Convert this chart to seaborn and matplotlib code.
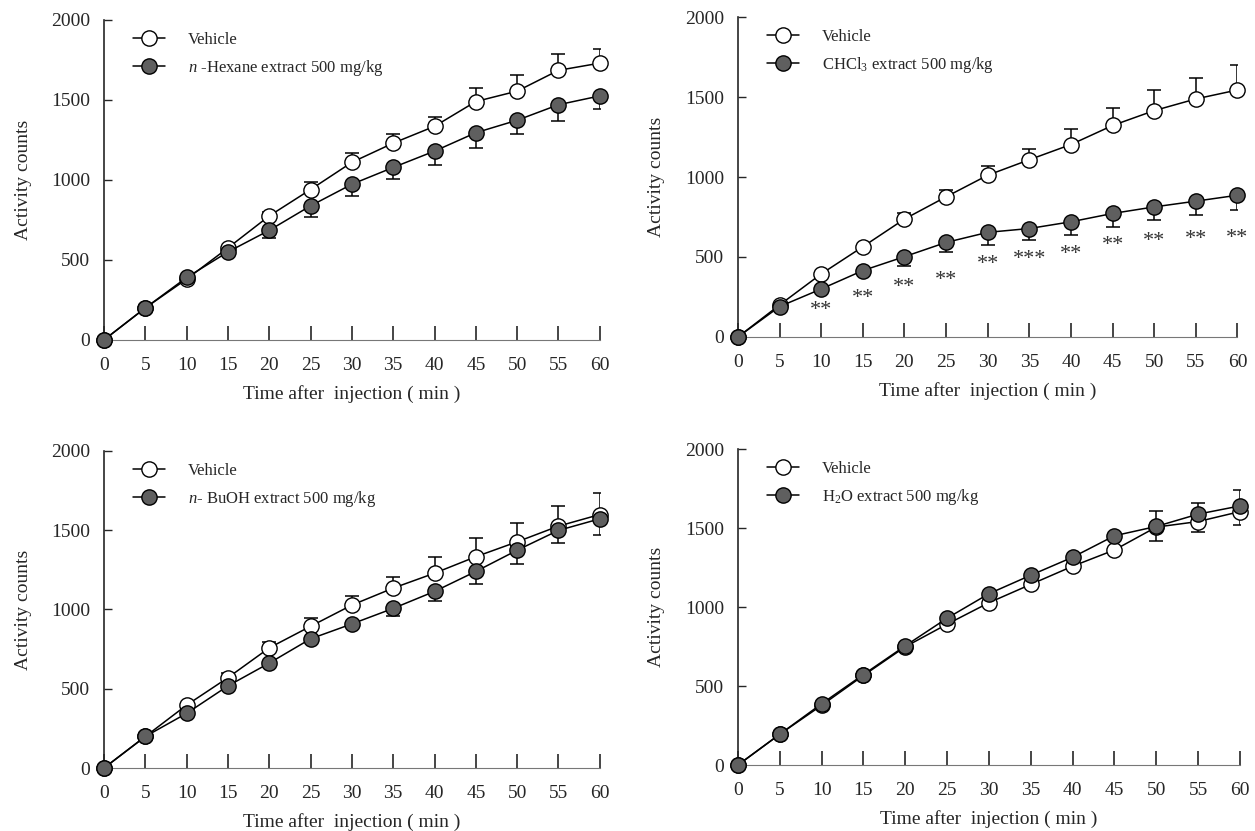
import numpy as np
import pandas as pd
import matplotlib
matplotlib.use("Agg")
import matplotlib.pyplot as plt
import seaborn as sns

# ---- data ----
time = [0, 5, 10, 15, 20, 25, 30, 35, 40, 45, 50, 55, 60]

hex_veh = [0, 200, 380, 575, 775, 940, 1110, 1230, 1335, 1490, 1555, 1685, 1730]
hex_veh_err = [0, 0, 0, 0, 25, 50, 60, 58, 60, 85, 100, 105, 90]
hex_ext = [0, 200, 390, 550, 685, 838, 973, 1078, 1180, 1295, 1373, 1470, 1525]
hex_ext_err = [0, 0, 0, 0, 48, 70, 72, 72, 88, 97, 89, 100, 80]

chcl_veh = [0, 200, 394, 564, 737, 876, 1011, 1108, 1203, 1322, 1415, 1488, 1544]
chcl_veh_err = [0, 0, 0, 0, 35, 41, 55, 64, 100, 109, 126, 130, 157]
chcl_ext = [0, 190, 300, 415, 502, 591, 654, 678, 720, 772, 813, 849, 886]
chcl_ext_err = [0, 0, 0, 0, 56, 58, 77, 72, 81, 87, 79, 88, 93]
star_time = [10, 15, 20, 25, 30, 35, 40, 45, 50, 55, 60]
star_y = [165, 238, 310, 352, 456, 487, 518, 570, 597, 609, 615]
star_txt = ["**", "**", "**", "**", "**", "***", "**", "**", "**", "**", "**"]

buoh_veh = [0, 199, 397, 570, 758, 894, 1028, 1135, 1229, 1333, 1427, 1526, 1599]
buoh_veh_err = [0, 0, 0, 30, 36, 50, 59, 67, 104, 117, 120, 129, 138]
buoh_ext = [0, 199, 345, 518, 662, 815, 909, 1007, 1114, 1240, 1374, 1499, 1572]
buoh_ext_err = [0, 0, 0, 0, 0, 0, 0, 50, 59, 80, 85, 78, 105]

h2o_veh = [0, 195, 378, 567, 749, 892, 1028, 1144, 1259, 1362, 1507, 1542, 1605]
h2o_veh_err = [0, 0, 0, 0, 0, 0, 0, 0, 0, 0, 90, 67, 84]
h2o_ext = [0, 195, 388, 573, 755, 930, 1085, 1202, 1316, 1452, 1511, 1589, 1641]
h2o_ext_err = [0, 0, 0, 0, 0, 0, 0, 0, 0, 0, 100, 69, 101]

labels_ext = ["$n$ -Hexane extract 500 mg/kg", "CHCl$_3$ extract 500 mg/kg",
              "$n$- BuOH extract 500 mg/kg", "H$_2$O extract 500 mg/kg"]
xticks = list(range(0, 61, 5))
yticks = [0, 500, 1000, 1500, 2000]

sns.set_theme(style="ticks")
plt.rcParams["font.family"] = ["Liberation Serif", "DejaVu Serif"]
plt.rcParams["mathtext.fontset"] = "custom"
plt.rcParams["mathtext.rm"] = "Liberation Serif"
plt.rcParams["mathtext.it"] = "Liberation Serif:italic"

fig = plt.figure(figsize=(12.55, 8.31), dpi=100)
positions = [
    [0.0829, 0.591, 0.395, 0.385],
    [0.588, 0.5945, 0.398, 0.385],
    [0.0829, 0.0758, 0.395, 0.3815],
    [0.588, 0.0794, 0.400, 0.380],
]
panels = [
    (hex_veh, hex_veh_err, hex_ext, hex_ext_err, "up", "down"),
    (chcl_veh, chcl_veh_err, chcl_ext, chcl_ext_err, "up", "down"),
    (buoh_veh, buoh_veh_err, buoh_ext, buoh_ext_err, "up", "down"),
    (h2o_veh, h2o_veh_err, h2o_ext, h2o_ext_err, "down", "up"),
]

for i, (pos, pan) in enumerate(zip(positions, panels)):
    veh, veh_err, ext, ext_err, vdir, edir = pan
    ax = fig.add_axes(pos)
    df = pd.DataFrame({"time": time * 2, "value": list(veh) + list(ext),
                       "group": ["Vehicle"] * len(time) + [labels_ext[i]] * len(time)})
    for grp, yerr, d, face, z in [("Vehicle", veh_err, vdir, "white", 3),
                                  (labels_ext[i], ext_err, edir, "#5f5f5f", 4)]:
        sub = df[df["group"] == grp]
        ye = np.array(yerr, dtype=float)
        if d == "up":
            err = [np.zeros_like(ye), ye]
        else:
            err = [ye, np.zeros_like(ye)]
        ax.errorbar(sub["time"], sub["value"], yerr=err, fmt="none", ecolor="black",
                    elinewidth=1.1, capsize=5, capthick=1.1, zorder=z - 1)
        sns.lineplot(data=sub, x="time", y="value", ax=ax, color="black", lw=1.1,
                     marker="o", markersize=11, markerfacecolor=face,
                     markeredgecolor="black", markeredgewidth=1.0, label=grp,
                     zorder=z, clip_on=False)
    if i == 1:
        for t, yv, s in zip(star_time, star_y, star_txt):
            ax.text(t, yv, s, ha="center", va="center", fontsize=16, color="#333333")
    ax.set_xlim(0, 60)
    ax.set_ylim(0, 2000)
    ax.set_xticks(xticks)
    ax.set_yticks(yticks)
    ax.tick_params(axis="x", direction="in", length=10, width=1.2, labelsize=14, pad=12)
    ax.tick_params(axis="y", direction="in", length=6, width=1.0, labelsize=14, pad=10)
    for s in ["top", "right"]:
        ax.spines[s].set_visible(False)
    ax.spines["left"].set_linewidth(1.2)
    ax.spines["bottom"].set_linewidth(0.8)
    ax.spines["bottom"].set_color("#777777")
    ax.set_xlabel("Time after  injection ( min )", fontsize=14, labelpad=8)
    ax.set_ylabel("Activity counts", fontsize=14, labelpad=14)
    ax.legend(loc="upper left", frameon=False, fontsize=12, handlelength=1.9,
              handletextpad=1.4, borderaxespad=0.3, bbox_to_anchor=(0.035, 1.0),
              labelspacing=0.6)

fig.savefig("out.png", dpi=100)
